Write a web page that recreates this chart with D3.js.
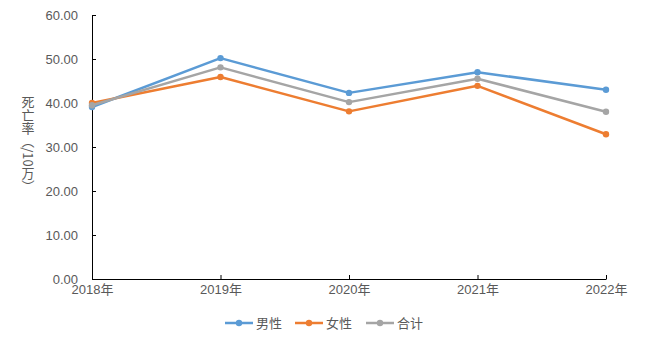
<!DOCTYPE html>
<html>
<head>
<meta charset="utf-8">
<script src="https://cdn.jsdelivr.net/npm/d3@7"></script>
<style>
  html, body { margin: 0; padding: 0; background: #fff; }
  svg text { font-family: "Liberation Sans", "Noto Sans CJK SC", sans-serif; fill: #595959; }
</style>
</head>
<body>
<svg id="chart" width="645" height="342"></svg>
<script>
const years = ["2018年", "2019年", "2020年", "2021年", "2022年"];
const male = [39.1, 50.2, 42.3, 47.0, 43.0];
const female = [40.0, 45.9, 38.1, 43.9, 32.9];
const total = [39.5, 48.1, 40.2, 45.5, 38.0];
const yTicks = [0, 10, 20, 30, 40, 50, 60];
const seriesNames = ["男性", "女性", "合计"];
const colors = ["#5B9BD5", "#ED7D31", "#A5A5A5"];

(function () {
  const series = [male, female, total].map((v, i) => ({ name: seriesNames[i], values: v, color: colors[i] }));

  const svg = d3.select("#chart");
  const plot = { left: 92, right: 606, top: 15, bottom: 279 };

  const x = d3.scalePoint().domain(years).range([plot.left, plot.right]);
  const y = d3.scaleLinear().domain([0, 60]).range([plot.bottom, plot.top]);

  // y axis
  const yAxis = svg.append("g").attr("transform", `translate(${plot.left},0)`)
    .call(d3.axisLeft(y).tickValues(yTicks).tickSizeInner(-4).tickSizeOuter(0).tickPadding(14).tickFormat(d3.format(".2f")));
  yAxis.select(".domain").attr("stroke", "#000");
  yAxis.selectAll(".tick line").attr("stroke", "#000");
  yAxis.selectAll("text").attr("font-size", 13).style("fill", "#595959");

  // x axis
  const xAxis = svg.append("g").attr("transform", `translate(0,${plot.bottom})`)
    .call(d3.axisBottom(x).tickSizeInner(-4).tickSizeOuter(0).tickPadding(6));
  xAxis.select(".domain").attr("stroke", "#000");
  xAxis.selectAll(".tick line").attr("stroke", "#000");
  xAxis.selectAll("text").attr("font-size", 13).style("fill", "#595959");

  // y axis title, vertical writing
  svg.append("text")
    .attr("x", 28).attr("y", 144)
    .attr("text-anchor", "middle")
    .attr("font-size", 13)
    .style("writing-mode", "vertical-rl")
    .style("font-family", "'Noto Sans CJK SC', sans-serif")
    .text("死亡率（/10万）");

  // lines and markers
  const line = d3.line().x((d, i) => x(years[i])).y(d => y(d));
  const g = svg.append("g");
  series.forEach(s => {
    g.append("path").datum(s.values)
      .attr("d", line).attr("fill", "none")
      .attr("stroke", s.color).attr("stroke-width", 2.5)
      .attr("stroke-linejoin", "round");
    g.selectAll(null).data(s.values).enter().append("circle")
      .attr("cx", (d, i) => x(years[i])).attr("cy", d => y(d))
      .attr("r", 3.2).attr("fill", s.color);
  });

  // legend
  const legendX = [225, 295, 366];
  const legend = svg.append("g");
  series.forEach((s, i) => {
    const lg = legend.append("g").attr("transform", `translate(${legendX[i]},323)`);
    lg.append("line").attr("x1", 0).attr("x2", 28).attr("y1", 0).attr("y2", 0)
      .attr("stroke", s.color).attr("stroke-width", 2.5);
    lg.append("circle").attr("cx", 14).attr("cy", 0).attr("r", 3.2).attr("fill", s.color);
    lg.append("text").attr("x", 31).attr("y", 5).attr("font-size", 13)
      .style("font-family", "'Noto Sans CJK SC', sans-serif").text(s.name);
  });
})();
</script>
</body>
</html>
